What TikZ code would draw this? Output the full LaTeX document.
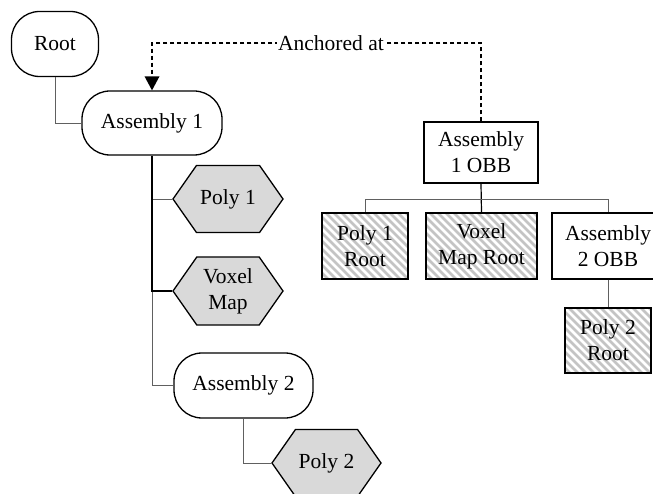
\documentclass[tikz,border=0pt]{standalone}
\usepackage{fontspec}
\setmainfont{Liberation Serif}
\usetikzlibrary{shapes.symbols,arrows.meta}
\definecolor{hexfill}{HTML}{D9D9D9}
\definecolor{hatchcol}{HTML}{C4C4C4}
\definecolor{linkgray}{HTML}{606060}
\tikzset{
  base/.style={font=\fontsize{21.5}{26}\selectfont, align=center, inner sep=0pt, line width=1.3pt},
  roundbox/.style={base, draw, rounded corners=28pt},
  hexbox/.style={base, draw, fill=hexfill, shape=signal, signal to=west and east, signal pointer angle=110},
  plainbox/.style={base, draw, rectangle},
  hatchbox/.style={base, draw, rectangle, fill=white,
    path picture={\foreach \i in {-140,-132,...,140}
      \draw[hatchcol, line width=2.6pt] ([xshift=\i pt]path picture bounding box.north west) -- ++(160pt,-160pt);}},
  link/.style={draw=linkgray, line width=0.9pt},
  darklink/.style={draw=black, line width=1.2pt},
  anchorlink/.style={draw=black, line width=2.2pt, dash pattern=on 4.5pt off 2.5pt}
}
\begin{document}
\begin{tikzpicture}[x=1pt,y=-1pt]
\clip (0,0) rectangle (653,494);
\fill[white] (0,0) rectangle (653,494);
% left tree
\node[roundbox, minimum width=87pt, minimum height=65pt] (root) at (55,44) {Root};
\node[roundbox, minimum width=140pt, minimum height=64pt] (a1) at (152,123) {Assembly 1};
\node[hexbox, minimum width=110pt, minimum height=67pt] (p1) at (228,199) {Poly 1};
\node[hexbox, minimum width=110pt, minimum height=68pt] (vox) at (228,291) {Voxel\\Map};
\node[roundbox, minimum width=139pt, minimum height=65pt] (a2) at (243.5,385.5) {Assembly 2};
\node[hexbox, minimum width=109pt, minimum height=67pt] (p2) at (326.5,463) {Poly 2};
% right tree
\node[plainbox, minimum width=114pt, minimum height=61pt] (obb1) at (481,152.5) {Assembly\\1 OBB};
\node[hatchbox, minimum width=86pt, minimum height=66pt] (p1r) at (365,246) {Poly 1\\Root};
\node[hatchbox, minimum width=111pt, minimum height=66pt] (vmr) at (481.5,246) {Voxel\\Map Root};
\node[plainbox, minimum width=112pt, minimum height=66pt] (obb2) at (608,246) {Assembly\\2 OBB};
\node[hatchbox, minimum width=86pt, minimum height=65pt] (p2r) at (608,340.5) {Poly 2\\Root};
% connectors left
\draw[link] (root.south) |- (a1.west);
\draw[link] (a1.south) |- (p1.west);
\draw[link] (a1.south) |- (a2.west);
\draw[darklink] (a1.south) |- (vox.west);
\draw[link] (a2.south) |- (p2.west);
% connectors right
\coordinate (bus) at (481,199);
\draw[darklink] (obb1.south) -- (vmr.north);
\draw[link] (bus) -| (p1r.north);
\draw[link] (bus) -| (obb2.north);
\draw[link] (obb2.south) -- (p2r.north);
% anchored at
\coordinate (c1) at (481,43);
\coordinate (c2) at (152,43);
\draw[anchorlink] (obb1.north) -- (c1) -- (c2) -- ([yshift=12pt]a1.north);
\fill (a1.north) -- ++(-7.5,-14) -- ++(15,0) -- cycle;
\node[base, fill=white, inner xsep=1pt, inner ysep=2pt] (lbl) at (331,43) {Anchored at};
\end{tikzpicture}
\end{document}
